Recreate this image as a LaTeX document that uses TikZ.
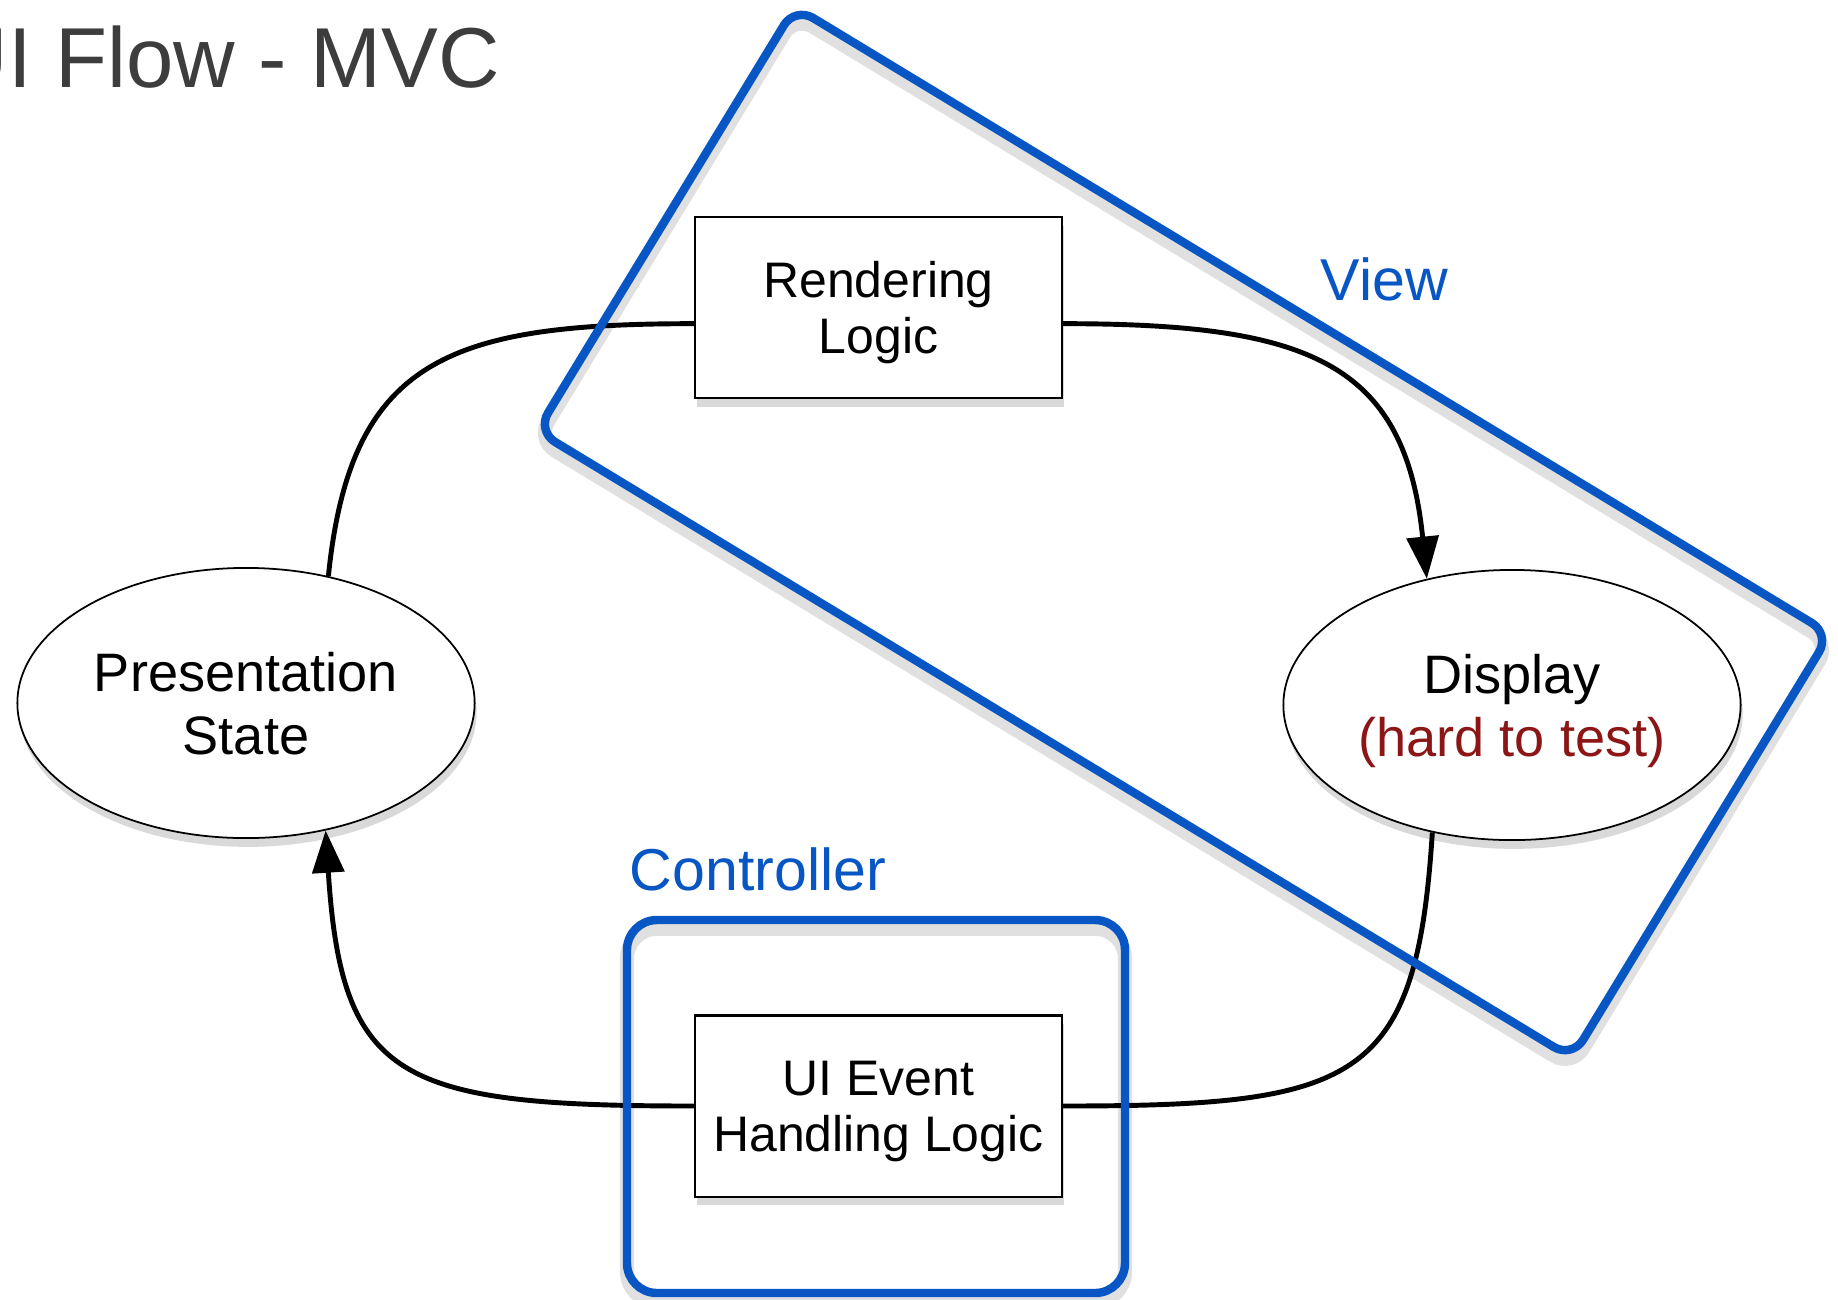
\documentclass[tikz,border=0pt]{standalone}
\usepackage{fontspec}
\setmainfont{Liberation Sans}
\usepackage{tikz}
\usetikzlibrary{shapes.geometric,shadows,arrows.meta}

\definecolor{mvcblue}{RGB}{8,86,196}
\definecolor{titlegray}{RGB}{61,61,61}
\definecolor{hardred}{RGB}{140,22,22}

\begin{document}
\begin{tikzpicture}[x=0.01cm,y=-0.01cm,>={Triangle[length=12pt,width=9pt]},
  logicbox/.style={draw,line width=0.6pt,fill=white,inner sep=0pt,
    minimum width=3.67cm,minimum height=1.81cm,align=center,text depth=0pt,
    font=\fontsize{14.2pt}{15.9pt}\selectfont,
    drop shadow={opacity=0.3,shadow xshift=0.6pt,shadow yshift=-2.5pt}},
  stateoval/.style={ellipse,draw,line width=0.5pt,fill=white,inner sep=0pt,
    minimum width=4.57cm,minimum height=2.70cm,align=center,text depth=0pt,
    font=\fontsize{15.4pt}{17.9pt}\selectfont,
    drop shadow={opacity=0.3,shadow xshift=0.6pt,shadow yshift=-2.5pt}},
  flowline/.style={line width=1.4pt},
  mvcframe/.style={draw=mvcblue,line width=2.4pt},
  frameshadow/.style={draw=black,opacity=0.12,line width=4pt,transform canvas={yshift=-2.5pt}},
  grouplabel/.style={anchor=base west,inner sep=0pt,text=mvcblue,font=\fontsize{16.8pt}{20pt}\selectfont}]
\useasboundingbox (0,0) rectangle (1838,1299);

%Title, cut at the left edge
    \node[anchor=base west,inner sep=0pt,text=titlegray,font=\fontsize{24.2pt}{29pt}\selectfont] (title) at (-54,87) {UI Flow - MVC};

%The four steps of the loop
    \node[logicbox] (rl) at (878.5,307.5) {Rendering\\Logic};
    \node[logicbox] (ui) at (878.5,1106) {UI Event\\Handling Logic};
    \node[stateoval] (ps) at (246,703) {Presentation\\State};
    \node[stateoval] (dp) at (1512,705) {Display\\\textcolor{hardred}{(hard to test)}};

%Curved connectors
    \draw[flowline] (ps.57) .. controls +(22,-217) and +(-245,0) .. (rl.185);
    \draw[flowline,->] (rl.-5) .. controls +(245,0) and +(-22,-217) .. (dp.124);
    \draw[flowline] (dp.-122) .. controls +(-16,250) and +(295,0) .. (ui.east);
    \draw[flowline,->] (ui.west) .. controls +(-295,0) and +(16,250) .. (ps.-58);

%View frame (tilted) and Controller frame
    \coordinate (vt) at (795,7);
    \coordinate (vr) at (1830,634);
    \coordinate (vb) at (1572,1058);
    \coordinate (vl) at (537,431);
    \coordinate (ctl) at (627,920);
    \coordinate (cbr) at (1125,1293);
    \draw[frameshadow,rounded corners=6pt] (vt) -- (vr) -- (vb) -- (vl) -- cycle;
    \draw[frameshadow,rounded corners=8.5pt] (ctl) rectangle (cbr);
    \draw[mvcframe,rounded corners=6pt] (vt) -- (vr) -- (vb) -- (vl) -- cycle;
    \draw[mvcframe,rounded corners=8.5pt] (ctl) rectangle (cbr);

    \node[grouplabel] (view) at (1320,300) {View};
    \node[grouplabel] (ctrl) at (629,890) {Controller};
\end{tikzpicture}
\end{document}
